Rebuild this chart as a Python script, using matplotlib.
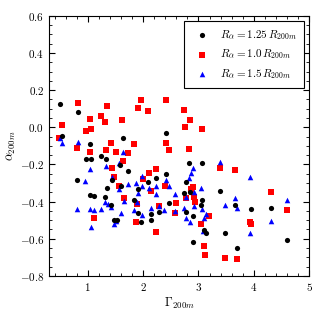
import matplotlib
matplotlib.use("Agg")
import matplotlib.pyplot as plt
from matplotlib.ticker import MultipleLocator

# R_alpha = 1.25 R_200m
g_125 = [0.50, 0.82, 0.536, 1.033, 0.967, 1.064, 1.233, 1.324, 1.633, 2.409,
         1.585, 1.731, 2.409, 2.233, 0.804, 1.44, 1.349, 1.033, 1.113, 1.318,
         1.427, 1.469, 1.531, 1.604, 2.095, 1.913, 2.742, 1.833, 2.469, 1.905,
         2.287, 2.136, 1.955, 2.136, 2.833, 3.064, 2.773, 2.845, 3.396, 3.064,
         3.045, 3.669, 3.955, 4.305, 2.905, 2.767, 3.095, 3.136, 3.487, 4.609,
         2.905, 3.70]
a_125 = [0.125, 0.082, -0.045, -0.090, -0.172, -0.170, -0.152, -0.172, -0.057, -0.031,
         -0.204, -0.236, -0.249, -0.272, -0.283, -0.283, -0.327, -0.365, -0.368, -0.377,
         -0.420, -0.497, -0.497, -0.318, -0.292, -0.332, -0.351, -0.390, -0.408, -0.461,
         -0.456, -0.466, -0.509, -0.497, -0.193, -0.193, -0.293, -0.349, -0.343, -0.390,
         -0.420, -0.417, -0.442, -0.434, -0.476, -0.458, -0.551, -0.567, -0.567, -0.608,
         -0.617, -0.649]

# R_alpha = 1.0 R_200m
g_100 = [0.822, 1.349, 1.233, 1.033, 1.318, 0.536, 1.064, 0.967, 0.487, 1.427,
         0.804, 1.324, 1.033, 1.513, 1.44, 1.955, 2.409, 1.905, 2.095, 2.742,
         1.622, 2.76, 2.851, 3.064, 2.409, 1.833, 2.469, 1.731, 1.633, 2.24,
         2.105, 1.996, 2.833, 3.396, 3.669, 2.909, 2.864, 4.305, 2.913, 2.773,
         2.936, 4.609, 3.191, 3.924, 3.955, 3.045, 3.105, 3.127, 3.487, 3.70,
         1.469, 1.555, 1.113, 2.396, 2.136, 1.651, 2.591, 1.887, 2.287, 2.578,
         1.864, 2.227]
a_100 = [0.129, 0.116, 0.061, 0.043, 0.030, 0.014, -0.009, -0.018, -0.060, -0.086,
         -0.113, -0.122, -0.132, -0.134, -0.220, 0.146, 0.146, 0.105, 0.086, 0.093,
         0.041, 0.003, 0.039, -0.009, -0.083, -0.090, -0.123, -0.136, -0.181, -0.222,
         -0.247, -0.276, -0.119, -0.221, -0.229, -0.320, -0.331, -0.349, -0.374, -0.381,
         -0.401, -0.445, -0.479, -0.508, -0.520, -0.520, -0.639, -0.687, -0.701, -0.708,
         -0.268, -0.315, -0.490, -0.318, -0.345, -0.381, -0.408, -0.411, -0.426, -0.461,
         -0.509, -0.561]

# R_alpha = 1.5 R_200m
g_150 = [0.50, 0.536, 0.822, 1.56, 1.324, 1.033, 1.44, 0.955, 1.633, 1.985,
         3.396, 2.909, 2.873, 3.927, 2.833, 3.055, 2.924, 2.585, 2.773, 3.669,
         4.609, 2.924, 3.482, 3.70, 2.742, 3.069, 2.573, 3.136, 3.105, 2.773,
         2.849, 4.305, 3.082, 3.927, 1.318, 1.36, 1.427, 0.804, 1.033, 1.115,
         1.236, 1.505, 1.469, 1.058, 1.731, 1.864, 2.409, 1.985, 2.227, 2.469,
         2.105, 1.913, 2.227, 1.573, 1.651, 1.895, 2.287, 2.136, 1.833, 2.385,
         1.609, 1.973]
a_150 = [-0.057, -0.084, -0.077, -0.191, -0.209, -0.224, -0.268, -0.288, -0.131, -0.260,
         -0.188, -0.217, -0.247, -0.270, -0.275, -0.324, -0.347, -0.358, -0.374, -0.378,
         -0.389, -0.422, -0.420, -0.433, -0.435, -0.442, -0.450, -0.468, -0.486, -0.486,
         -0.509, -0.506, -0.559, -0.567, -0.401, -0.413, -0.431, -0.438, -0.441, -0.445,
         -0.438, -0.506, -0.520, -0.536, -0.304, -0.300, -0.283, -0.318, -0.318, -0.318,
         -0.327, -0.351, -0.358, -0.332, -0.399, -0.402, -0.422, -0.434, -0.443, -0.443,
         -0.461, -0.470]

plt.rcParams.update({
    "font.family": "serif",
    "font.serif": ["cmr10"],
    "mathtext.fontset": "cm",
    "axes.formatter.use_mathtext": True,
    "font.size": 8,
    "axes.linewidth": 0.8,
    "xtick.direction": "in",
    "ytick.direction": "in",
    "xtick.top": True,
    "ytick.right": True,
    "xtick.major.size": 4,
    "ytick.major.size": 4,
    "xtick.minor.size": 2,
    "ytick.minor.size": 2,
})

fig = plt.figure(figsize=(3.25, 3.25), dpi=100)
ax = fig.add_axes([0.151, 0.151, 0.80, 0.80])

ax.scatter(g_125, a_125, s=14, c="k", marker="o", linewidths=0,
           label=r"$R_\alpha = 1.25\,R_{200m}$", zorder=3)
ax.scatter(g_100, a_100, s=14, c="r", marker="s", linewidths=0,
           label=r"$R_\alpha = 1.0\,R_{200m}$", zorder=2)
ax.scatter(g_150, a_150, s=16, c="b", marker="^", linewidths=0,
           label=r"$R_\alpha = 1.5\,R_{200m}$", zorder=2)

ax.set_xlim(0.3, 5)
ax.set_ylim(-0.8, 0.6)
ax.xaxis.set_major_locator(MultipleLocator(1))
ax.xaxis.set_minor_locator(MultipleLocator(0.2))
ax.yaxis.set_major_locator(MultipleLocator(0.2))
ax.yaxis.set_minor_locator(MultipleLocator(0.05))
ax.tick_params(which="both", top=True, right=True)

ax.set_xlabel(r"$\Gamma_{200m}$", fontsize=9, labelpad=2)
ax.set_ylabel(r"$\alpha_{200m}$", fontsize=9, labelpad=1)

leg = ax.legend(loc="upper right", scatterpoints=1, fancybox=False,
                edgecolor="k", framealpha=1, fontsize=8, borderpad=0.6,
                handletextpad=0.6)
leg.get_frame().set_linewidth(0.8)

fig.savefig("out.png", dpi=100)
